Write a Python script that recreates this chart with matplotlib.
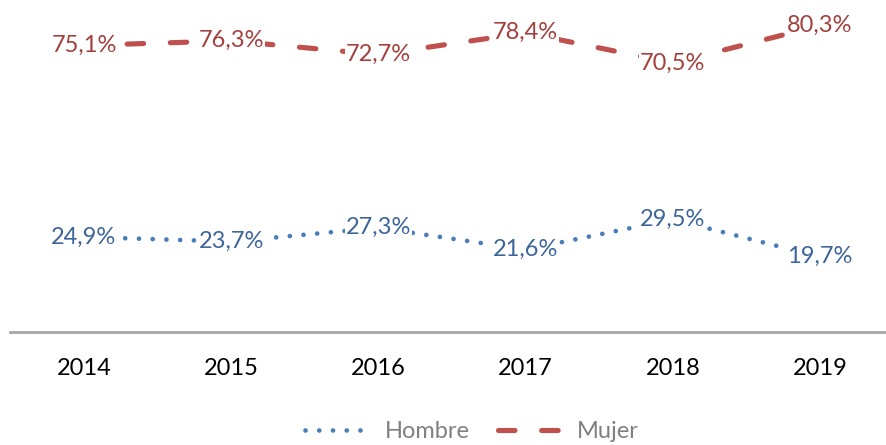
import matplotlib
matplotlib.use('Agg')
import matplotlib.pyplot as plt
from matplotlib.lines import Line2D

# --- DATA ---
years = ['2014', '2015', '2016', '2017', '2018', '2019']
hombre = [24.9, 23.7, 27.3, 21.6, 29.5, 19.7]
mujer = [75.1, 76.3, 72.7, 78.4, 70.5, 80.3]

BLUE = '#4A7EBB'
BLUE_TXT = '#3D659A'
RED = '#C0504D'
RED_TXT = '#A3403D'

DOTS = (0, (0.01, 2.9))
DASHES = (0, (3.2, 5.2))

plt.rcParams['font.family'] = ['Lato', 'DejaVu Sans']

fig = plt.figure(figsize=(8.87, 4.45), dpi=100, facecolor='white')
ax = fig.add_axes([10.4 / 887, 113 / 445, 883.2 / 887, 332 / 445])

x = list(range(len(years)))

# Hombre: dotted
ax.plot(x, hombre, color=BLUE, linewidth=3.4, linestyle=DOTS,
        dash_capstyle='round', zorder=2)
# Mujer: dashed
ax.plot(x, mujer, color=RED, linewidth=3.7, linestyle=DASHES,
        dash_capstyle='round', zorder=2)

lbl_box = dict(boxstyle='square,pad=0.05', facecolor='white', edgecolor='none')
for xi, v in zip(x, hombre):
    ax.text(xi, v, f'{v:.1f}%'.replace('.', ','), ha='center', va='center',
            color=BLUE_TXT, fontsize=17, bbox=lbl_box, zorder=3)
for xi, v in zip(x, mujer):
    ax.text(xi, v, f'{v:.1f}%'.replace('.', ','), ha='center', va='center',
            color=RED_TXT, fontsize=17, bbox=lbl_box, zorder=3)

ax.set_xlim(-0.5, 5.5)
ax.set_ylim(0, 87)
ax.set_xticks(x)
ax.set_xticklabels(years, fontsize=17, color='black')
ax.set_yticks([])
ax.tick_params(axis='x', length=0, pad=18.5)
for side in ['top', 'right', 'left']:
    ax.spines[side].set_visible(False)
ax.spines['bottom'].set_color('#A6A6A6')
ax.spines['bottom'].set_linewidth(2)
ax.patch.set_alpha(0)

handles = [
    Line2D([0], [0], color=BLUE, linewidth=3.4, linestyle=DOTS,
           dash_capstyle='round'),
    Line2D([0], [0], color=RED, linewidth=3.7, linestyle=DASHES,
           dash_capstyle='round'),
]
fig.legend(handles, ['Hombre', 'Mujer'], loc='center',
           bbox_to_anchor=(472 / 887, 1 - 432 / 445), ncol=2, frameon=False,
           fontsize=17, labelcolor='#808080', handlelength=2.7,
           columnspacing=1.2, handletextpad=0.65)

fig.savefig('out.png', dpi=100, facecolor='white')
